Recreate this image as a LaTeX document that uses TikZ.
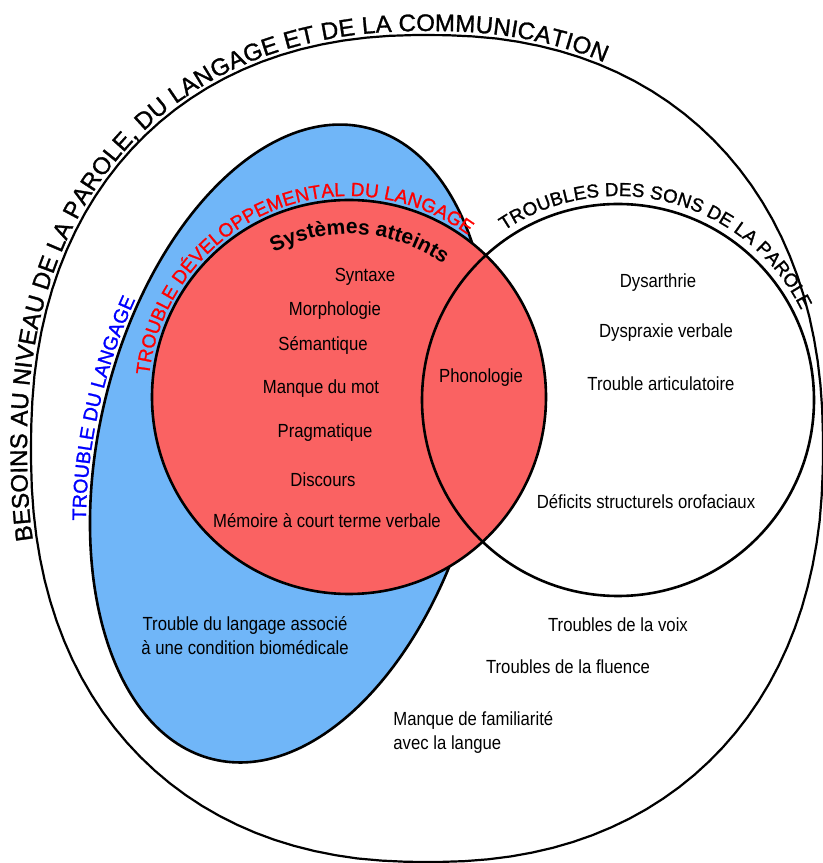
\documentclass[tikz,border=0pt]{standalone}
\usepackage{fontspec}
\setmainfont{Liberation Sans}
\newfontfamily\etroite{Liberation Sans}[FakeStretch=0.88]
\newfontfamily\titre{Liberation Sans}[FakeBold=1.2]
\usetikzlibrary{decorations.text}
\definecolor{rouge}{RGB}{250,98,98}
\definecolor{bleu}{RGB}{112,182,248}
\begin{document}
\begin{tikzpicture}[x=0.5pt, y=0.5pt,
    trait/.style={line width=1.3pt, draw=black},
    etiquette/.style={font=\etroite\fontsize{9.5}{12}\selectfont, inner sep=0pt, align=center}]
        % Cadre
        \useasboundingbox (0,0) rectangle (823,863);
        % Contour des besoins (super-ellipse)
        \draw[line width=1.1pt] plot[domain=1:361, samples=121, variable=\t]
            ({427+396*sign(cos(\t))*abs(cos(\t))^0.889}, {414.5+413.5*sign(sin(\t))*abs(sin(\t))^0.889}) -- cycle;
        % Cercles
        \coordinate (langage) at (290,419.5);
        \coordinate (tdl) at (349,466);
        \coordinate (sons) at (618,463);
        \filldraw[trait, fill=bleu, rotate around={76.3:(langage)}] (langage) ellipse[x radius=325, y radius=190];
        \filldraw[trait, fill=rouge] (tdl) circle[radius=197];
        \draw[trait] (sons) circle[radius=196];
        % Titres courbes
        \path[decorate, decoration={text along path, text align=left, raise=2pt,
            text={|\titre\fontsize{12}{14}\selectfont|BESOINS AU NIVEAU DE LA PAROLE, DU LANGAGE ET DE LA COMMUNICATION}}]
            plot[domain=190.5:30.5, samples=65, variable=\t]
            ({427+396*sign(cos(\t))*abs(cos(\t))^0.889}, {414.5+413.5*sign(sin(\t))*abs(sin(\t))^0.889});
        \begin{scope}[shift={(langage)}, rotate=76.3]
            \path[decorate, decoration={text along path, text align=center, raise=2pt, text color=blue,
                text={|\titre\fontsize{9.8}{12}\selectfont|TROUBLE DU LANGAGE}}]
                (125:325 and 190) arc[start angle=125, end angle=59, x radius=325, y radius=190];
        \end{scope}
        \path[decorate, decoration={text along path, text align=center, raise=1pt, text color=red,
            text={|\titre\fontsize{9.5}{11}\selectfont|TROUBLE DÉVELOPPEMENTAL DU LANGAGE}}]
            ([shift={(190:199)}]tdl) arc[start angle=190, end angle=37.5, radius=199];
        \path[decorate, decoration={text along path, text align=center,
            text={|\bfseries\fontsize{10.5}{12}\selectfont|Systèmes atteints}}]
            ([shift={(150:163)}]tdl) arc[start angle=150, end angle=22, radius=163];
        \path[decorate, decoration={text along path, text align=center, raise=1pt,
            text={|\titre\fontsize{9.4}{12}\selectfont|TROUBLES DES SONS DE LA PAROLE}}]
            ([shift={(150:202)}]sons) arc[start angle=150, end angle=0, radius=202];
        % Systèmes atteints
        \node[etiquette] (syntaxe) at (365,586) {Syntaxe};
        \node[etiquette] (morpho) at (335,552) {Morphologie};
        \node[etiquette] (semantique) at (323,518) {Sémantique};
        \node[etiquette] (mot) at (321,474) {Manque du mot};
        \node[etiquette] (pragma) at (325,430) {Pragmatique};
        \node[etiquette] (discours) at (323,383) {Discours};
        \node[etiquette] (memoire) at (327,342) {Mémoire à court terme verbale};
        \node[etiquette] (phono) at (481,485) {Phonologie};
        % Troubles des sons
        \node[etiquette] (dysarthrie) at (658,580) {Dysarthrie};
        \node[etiquette] (dyspraxie) at (666,530) {Dyspraxie verbale};
        \node[etiquette] (articul) at (661,479) {Trouble articulatoire};
        \node[etiquette] (orofac) at (646,361) {Déficits structurels orofaciaux};
        % Autres besoins
        \node[etiquette] (biomed) at (245,227) {Trouble du langage associé\\ à une condition biomédicale};
        \node[etiquette] (voix) at (618,238) {Troubles de la voix};
        \node[etiquette] (fluence) at (568,196) {Troubles de la fluence};
        \node[etiquette, anchor=west, align=left] (familiarite) at (393,131) {Manque de familiarité\\avec la langue};
\end{tikzpicture}
\end{document}
